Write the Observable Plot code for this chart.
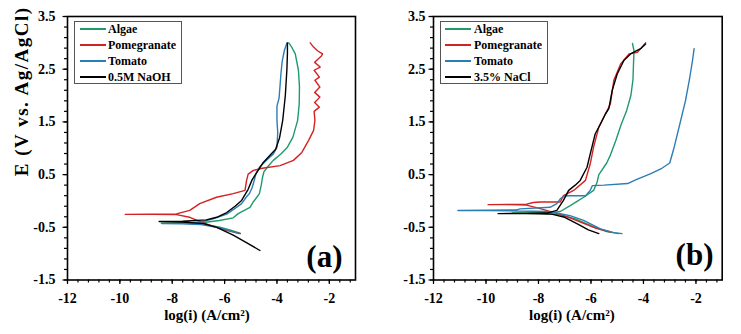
<!DOCTYPE html>
<html><head><meta charset="utf-8">
<script src="https://cdn.jsdelivr.net/npm/d3@7"></script>
<script src="https://cdn.jsdelivr.net/npm/@observablehq/plot@0.6"></script>
<style>
body{margin:0;background:#fff;}
#wrap{position:relative;width:741px;height:334px;}
.panel{position:absolute;top:0;height:334px;}
.legend{position:absolute;border:1px solid #555;background:#fff;box-sizing:border-box;}
.legend .sw{position:absolute;height:2px;}
.legend .lb{position:absolute;font:bold 12px "Liberation Serif",serif;color:#000;white-space:nowrap;line-height:12px;}
</style></head>
<body><div id="wrap"></div>
<script>
// ---- data: [log(i), E] pairs ----
const seriesNamesA = ["Algae", "Pomegranate", "Tomato", "0.5M NaOH"];
const seriesNamesB = ["Algae", "Pomegranate", "Tomato", "3.5% NaCl"];
const seriesColors = ["#1f9b6b", "#d42222", "#2c7db4", "#000000"];

const aAlgae = [[-5.41,-0.61],[-5.8,-0.55],[-6.18,-0.5],[-6.8,-0.44],[-7.6,-0.425],[-8.42,-0.42],
  [-7.6,-0.415],[-6.8,-0.41],[-6.2,-0.37],[-5.67,-0.32],[-5.48,-0.24],[-5.03,-0.12],[-4.92,-0.03],[-4.77,0.07],[-4.67,0.14],
  [-4.6,0.3],[-4.55,0.45],[-4.5,0.55],[-4.37,0.64],[-4.14,0.77],[-3.85,0.89],[-3.6,1.02],[-3.39,1.21],[-3.21,1.53],
  [-3.15,1.84],[-3.14,2.16],[-3.18,2.48],[-3.3,2.79],[-3.45,2.93],[-3.55,3.0]];
const aPomegranate = [[-5.4,-0.62],[-5.9,-0.56],[-6.3,-0.5],[-6.56,-0.46],[-6.95,-0.39],[-7.33,-0.31],[-7.84,-0.26],[-8.8,-0.255],[-9.79,-0.255],
  [-8.8,-0.25],[-7.84,-0.245],[-7.33,-0.18],[-6.95,-0.05],[-6.31,0.07],[-5.67,0.14],[-5.22,0.2],[-5.16,0.39],[-5.1,0.51],
  [-4.9,0.58],[-4.56,0.62],[-3.88,0.67],[-3.37,0.77],[-3.05,0.92],[-2.79,1.15],[-2.6,1.34],[-2.55,1.53],[-2.58,1.7],
  [-2.38,1.78],[-2.56,1.87],[-2.36,1.97],[-2.56,2.06],[-2.36,2.16],[-2.55,2.29],[-2.38,2.35],[-2.58,2.48],[-2.35,2.54],
  [-2.56,2.63],[-2.3,2.75],[-2.26,2.79],[-2.45,2.85],[-2.6,2.92],[-2.73,3.0]];
const aTomato = [[-5.45,-0.62],[-5.9,-0.55],[-6.3,-0.5],[-6.9,-0.45],[-7.6,-0.435],[-8.4,-0.43],
  [-7.6,-0.425],[-6.9,-0.4],[-6.44,-0.34],[-5.92,-0.25],[-5.6,-0.14],[-5.35,-0.05],[-5.16,0.08],[-5.05,0.14],[-4.95,0.25],
  [-4.9,0.33],[-4.8,0.52],[-4.67,0.64],[-4.4,0.77],[-4.14,0.89],[-4.0,1.02],[-3.97,1.3],[-4.0,1.53],[-4.0,1.8],
  [-3.92,1.95],[-3.88,2.2],[-3.85,2.4],[-3.8,2.65],[-3.72,2.85],[-3.62,3.0]];
const aNaOH = [[-4.65,-0.94],[-5.2,-0.78],[-5.67,-0.65],[-6.3,-0.5],[-6.8,-0.43],[-7.6,-0.4],[-8.5,-0.39],
  [-7.6,-0.385],[-6.7,-0.36],[-6.3,-0.31],[-5.92,-0.22],[-5.6,-0.1],[-5.35,0.01],[-5.1,0.22],[-4.95,0.4],[-4.8,0.52],
  [-4.54,0.72],[-4.3,0.85],[-4.05,0.98],[-3.9,1.2],[-3.78,1.53],[-3.68,2.0],[-3.62,2.5],[-3.6,2.8],[-3.6,3.0]];

const bAlgae = [[-4.94,-0.62],[-5.4,-0.58],[-6.0,-0.47],[-6.6,-0.34],[-7.2,-0.26],[-8.0,-0.235],[-9.0,-0.23],
  [-8.0,-0.225],[-7.4,-0.22],[-7.17,-0.2],[-6.79,-0.09],[-6.5,0.0],[-6.28,0.07],[-5.9,0.2],[-5.77,0.35],[-5.7,0.5],
  [-5.4,0.72],[-5.26,0.87],[-5.05,1.15],[-4.85,1.45],[-4.65,1.7],[-4.48,2.0],[-4.4,2.3],[-4.38,2.6],[-4.36,2.85],[-4.42,2.99]];
const bPomegranate = [[-5.26,-0.59],[-5.8,-0.52],[-6.3,-0.42],[-6.8,-0.32],[-7.2,-0.25],[-7.9,-0.15],[-8.45,-0.08],[-9.2,-0.07],[-9.92,-0.07],
  [-9.2,-0.065],[-8.45,-0.06],[-8.2,-0.03],[-7.94,-0.02],[-7.17,-0.02],[-7.05,0.1],[-6.66,0.2],[-6.21,0.39],[-6.03,0.7],
  [-5.9,1.02],[-5.7,1.4],[-5.45,1.65],[-5.26,1.84],[-5.13,2.29],[-4.87,2.6],[-4.55,2.79],[-4.23,2.82],[-3.92,3.0]];
const bTomato = [[-4.82,-0.62],[-5.13,-0.6],[-5.64,-0.53],[-6.28,-0.37],[-6.8,-0.28],[-7.17,-0.24],[-7.7,-0.2],[-8.8,-0.19],[-10.0,-0.18],[-11.07,-0.18],
  [-10.0,-0.175],[-8.83,-0.17],[-8.7,-0.15],[-7.56,-0.12],[-7.3,-0.05],[-7.17,0.04],[-7.0,0.1],[-6.53,0.1],[-6.2,0.1],
  [-6.03,0.2],[-5.95,0.29],[-5.5,0.3],[-4.6,0.33],[-4.3,0.4],[-3.72,0.52],[-3.3,0.62],[-3.0,0.72],[-2.83,1.02],
  [-2.58,1.53],[-2.4,1.9],[-2.25,2.3],[-2.13,2.67],[-2.07,2.89]];
const bNaCl = [[-5.7,-0.62],[-6.1,-0.55],[-6.5,-0.44],[-7.0,-0.31],[-7.5,-0.25],[-8.5,-0.24],[-9.54,-0.24],
  [-8.5,-0.235],[-7.68,-0.23],[-7.3,-0.18],[-7.05,0.01],[-6.85,0.2],[-6.6,0.3],[-6.41,0.39],[-6.15,0.64],[-6.03,0.89],
  [-5.84,1.27],[-5.64,1.46],[-5.45,1.65],[-5.32,1.75],[-5.19,2.1],[-5.0,2.41],[-4.74,2.67],[-4.49,2.79],[-4.11,2.89],[-3.92,2.98]];

const xMajor = [-12, -10, -8, -6, -4, -2];
const yMajor = [-1.5, -0.5, 0.5, 1.5, 2.5, 3.5];
const xTitle = "log(i) (A/cm²)";
const yTitle = "E (V vs. Ag/AgCl)";
const panelTags = ["(a)", "(b)"];

const xMinor = d3.range(0, 28).map(i => -12 + i * 0.4);
const yMinor = d3.range(0, 26).map(i => -1.5 + i * 0.2);

function makePanel(cfg) {
  const rows = cfg.series.flatMap((s, i) => s.map(([x, y]) => ({x, y, name: cfg.names[i]})));
  const marks = [
    Plot.axisX({ticks: xMinor, tickSize: 3, tickFormat: () => "", label: null, strokeWidth: 1.2}),
    Plot.axisX({ticks: xMajor, tickSize: 4.5, tickFormat: () => "", label: null, strokeWidth: 1.2}),
    Plot.axisY({ticks: yMinor, tickSize: 3, tickFormat: () => "", label: null, strokeWidth: 1.2}),
    Plot.axisY({ticks: yMajor, tickSize: 4.5, tickFormat: () => "", label: null, strokeWidth: 1.2}),
    // tick labels
    Plot.text(xMajor, {x: d => d, frameAnchor: "bottom", lineAnchor: "middle", dy: 18.5, text: d => String(d),
      fontSize: 14, fontWeight: "bold", fill: "black"}),
    Plot.text(yMajor, {y: d => d, frameAnchor: "left", textAnchor: "end", dx: cfg.ydx, text: d => d.toFixed(1),
      fontSize: 14, fontWeight: "bold", fill: "black"}),
    Plot.line(rows, {x: "x", y: "y", z: "name", stroke: "name", strokeWidth: 1.4}),
    Plot.frame({stroke: "black", strokeWidth: 1.6}),
    Plot.text([xTitle], {frameAnchor: "bottom", lineAnchor: "middle", dy: 35.5, dx: cfg.xtdx, fontSize: 15, fontWeight: "bold"}),
    Plot.text([cfg.tag], {frameAnchor: "bottom-right", textAnchor: "end", lineAnchor: "middle", dx: cfg.tagDx, dy: cfg.tagDy, fontSize: 31, fontWeight: "bold"})
  ];
  if (cfg.ytitle) marks.push(Plot.text([cfg.ytitle], {frameAnchor: "left", dx: -46, dy: 28, rotate: -90, fontSize: 19, fontWeight: "bold"}));
  const svg = Plot.plot({
    width: cfg.width, height: 334,
    marginLeft: cfg.ml, marginRight: cfg.mr, marginTop: 16, marginBottom: 54.5,
    x: {domain: [-12, -1], label: null},
    y: {domain: [-1.5, 3.5], label: null},
    color: {domain: cfg.names, range: seriesColors},
    style: {fontFamily: "'Liberation Serif', serif", fontWeight: "bold", fontSize: "13px", color: "black", background: "white"},
    marks
  });
  if (cfg.ytitle) d3.select(svg).selectAll("text").filter(function () { return this.textContent === cfg.ytitle; }).attr("letter-spacing", "1.5px");
  const div = document.createElement("div");
  div.className = "panel";
  div.style.left = cfg.left + "px";
  div.style.width = cfg.width + "px";
  div.appendChild(svg);
  // legend
  const lg = document.createElement("div");
  lg.className = "legend";
  Object.assign(lg.style, {left: cfg.lg.left + "px", top: "21px", width: "108px", height: "63px"});
  cfg.names.forEach((n, i) => {
    const sw = document.createElement("div");
    sw.className = "sw";
    Object.assign(sw.style, {left: cfg.lg.sw + "px", width: "26px", top: (6 + i * 16) + "px", background: seriesColors[i]});
    const lb = document.createElement("div");
    lb.className = "lb";
    Object.assign(lb.style, {left: cfg.lg.tx + "px", top: (1 + i * 16) + "px"});
    lb.textContent = n;
    lg.appendChild(sw); lg.appendChild(lb);
  });
  div.appendChild(lg);
  document.getElementById("wrap").appendChild(div);
}

makePanel({series: [aAlgae, aPomegranate, aTomato, aNaOH], names: seriesNamesA, tag: panelTags[0], ytitle: yTitle,
  left: 0, width: 370, ml: 67, mr: 15, ydx: -12, xtdx: -4.5, tagDx: -13, tagDy: -22.5, lg: {left: 74, sw: 5, tx: 33}});
makePanel({series: [bAlgae, bPomegranate, bTomato, bNaCl], names: seriesNamesB, tag: panelTags[1], ytitle: null,
  left: 370, width: 371, ml: 63, mr: 19.3, ydx: -8, xtdx: -6, tagDx: -8.7, tagDy: -24.5, lg: {left: 70, sw: 4, tx: 33}});
</script>
</body></html>
